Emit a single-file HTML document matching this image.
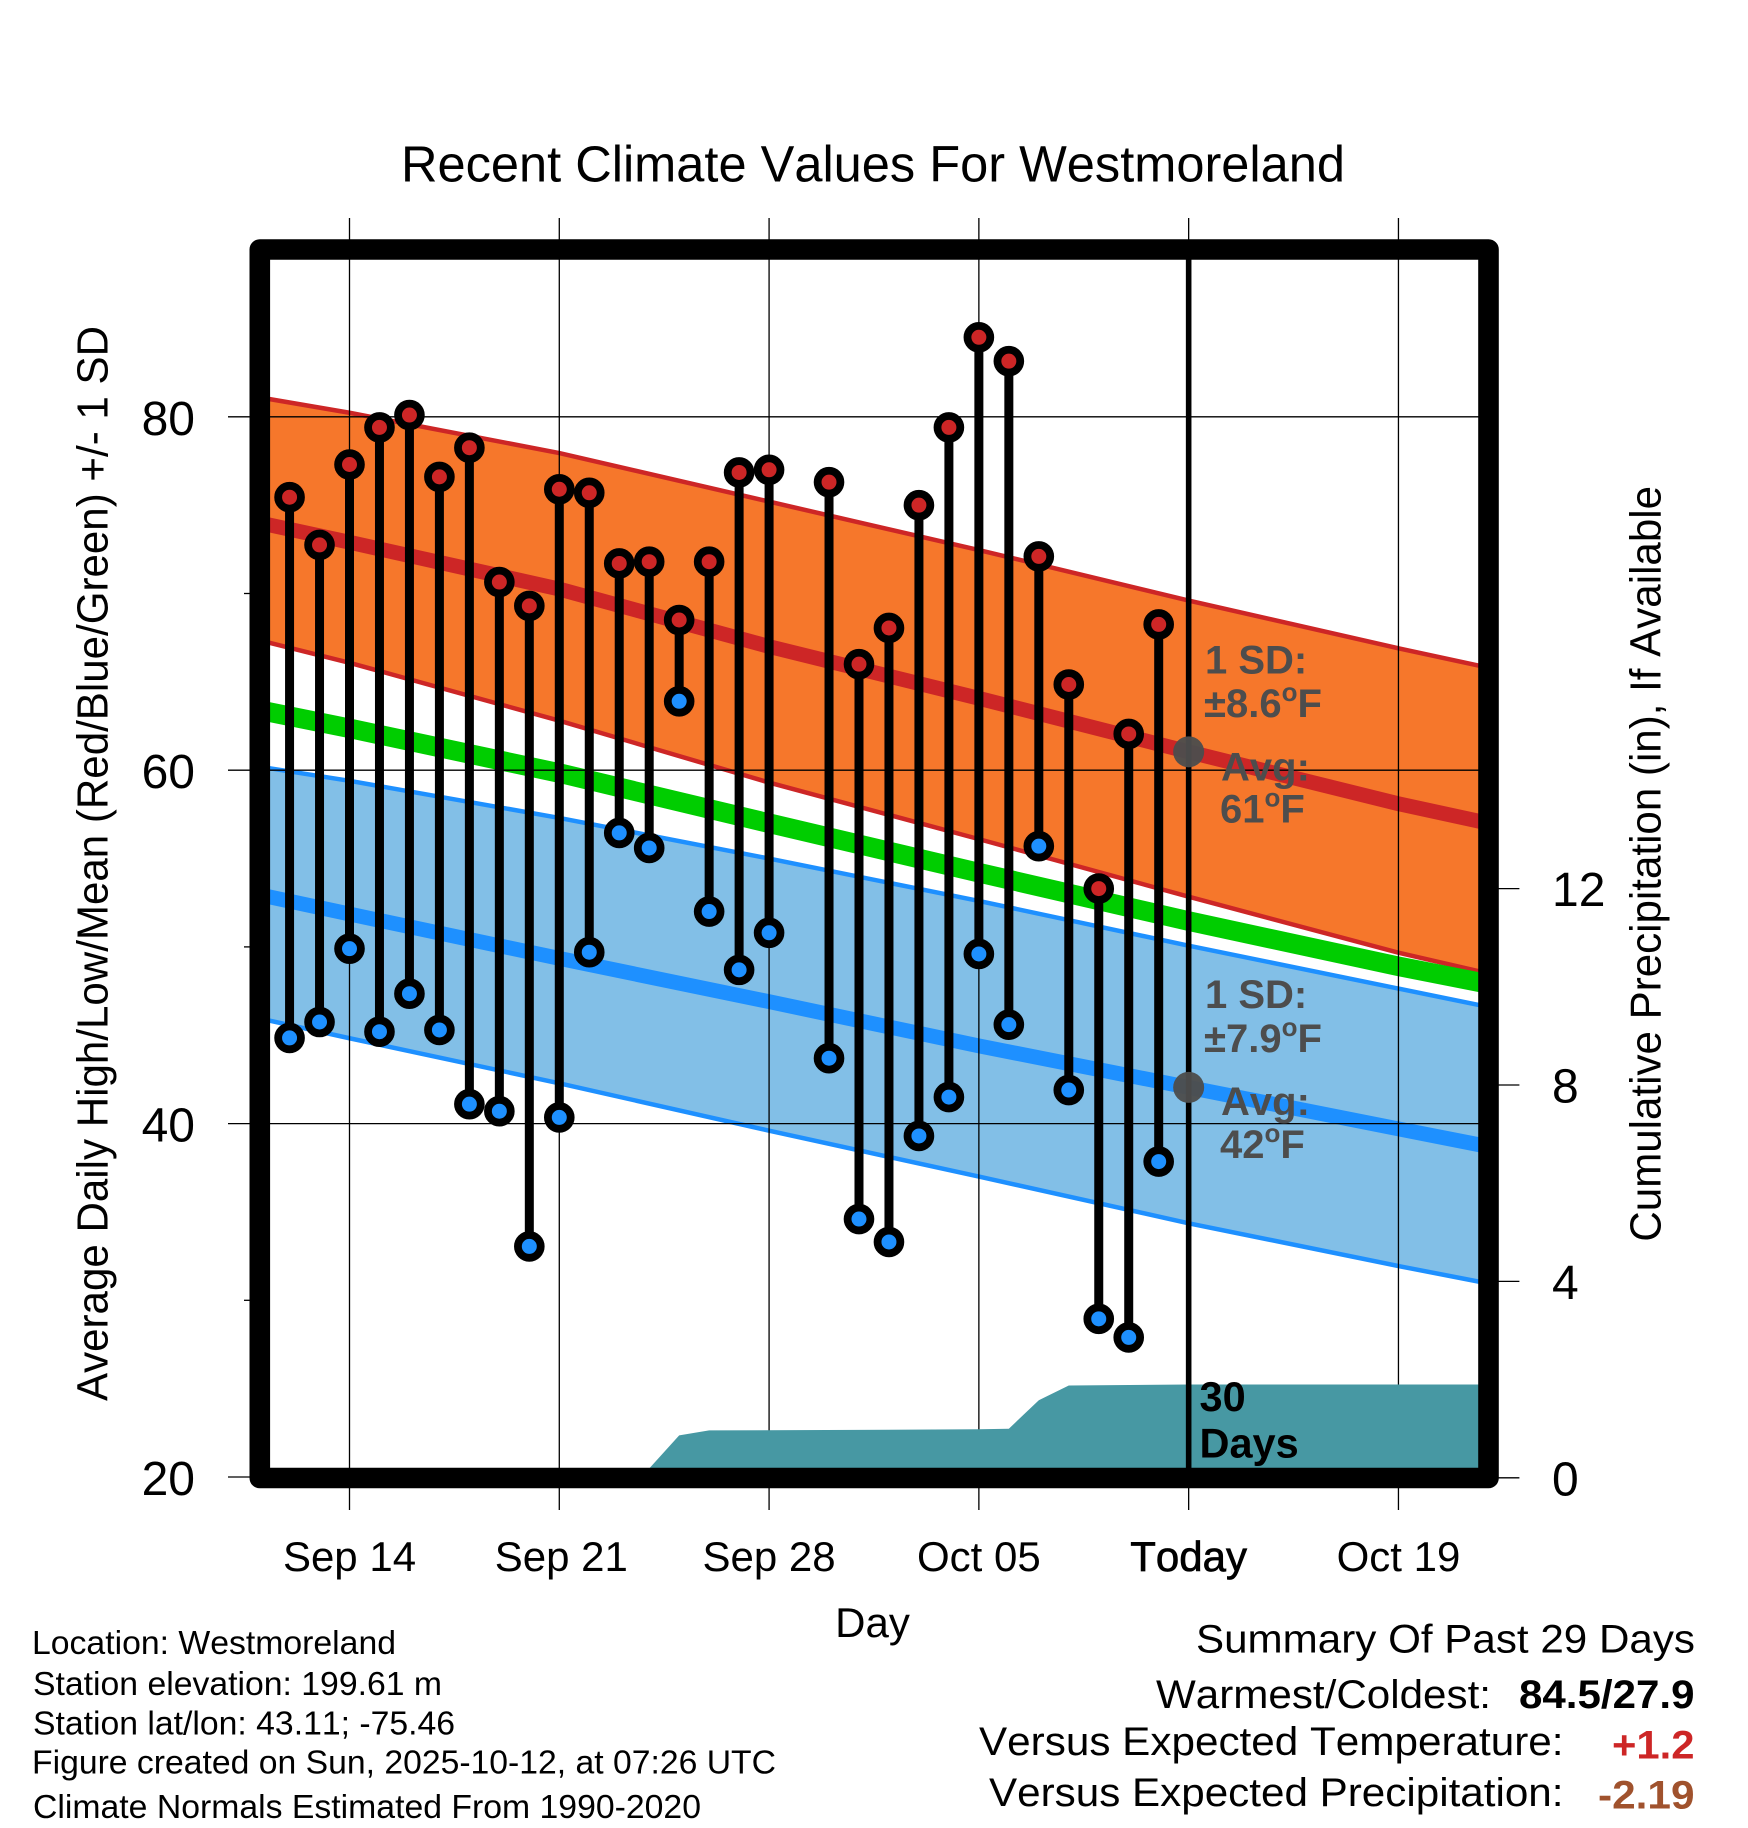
<!DOCTYPE html>
<html lang="en">
<head>
<meta charset="utf-8">
<title>Recent Climate Values For Westmoreland</title>
<style>
html,body{margin:0;padding:0;background:#fff;}
svg{display:block;}
text{font-family:"Liberation Sans",sans-serif;fill:#000;font-kerning:none;}
.note{font-weight:bold;fill:#4D4D4D;font-size:40px;}
.info{font-size:33px;}
.sum{font-size:40px;}
.sumb{font-size:40px;font-weight:bold;}
</style>
</head>
<body>
<svg id="chart" xmlns="http://www.w3.org/2000/svg" width="1748" height="1828" viewBox="0 0 1748 1828">
  <rect x="0" y="0" width="1748" height="1828" fill="#fff"/>
  <text x="401" y="181.5" font-size="51" textLength="944" lengthAdjust="spacingAndGlyphs">Recent Climate Values For Westmoreland</text>

  <g id="bands"></g>
  <g id="grid"></g>
  <g id="precip"></g>
  <g id="marks"></g>

  <rect x="259.8" y="249.5" width="1228.7" height="1228.5" fill="none" stroke="#000" stroke-width="20.6" stroke-linejoin="round"/>

  <g id="axis-labels"></g>

  <text transform="translate(107.7 1401) rotate(-90)" font-size="44" textLength="1075" lengthAdjust="spacingAndGlyphs">Average Daily High/Low/Mean (Red/Blue/Green) +/- 1 SD</text>
  <text transform="translate(1660.7 1241.6) rotate(-90)" font-size="44" textLength="755.6" lengthAdjust="spacingAndGlyphs">Cumulative Precipitation (in), If Available</text>
  <text x="872.5" y="1637" font-size="42" text-anchor="middle">Day</text>

  <g>
    <text class="note" x="1205" y="673.5">1 SD:</text>
    <text class="note" x="1204" y="717">±8.6<tspan font-size="26" dy="-16">o</tspan><tspan dy="16">F</tspan></text>
    <text class="note" x="1221" y="780.4">Avg:</text>
    <text class="note" x="1220" y="822.4">61<tspan font-size="26" dy="-16">o</tspan><tspan dy="16">F</tspan></text>
  </g>
  <g>
    <text class="note" x="1205" y="1008">1 SD:</text>
    <text class="note" x="1204" y="1052">±7.9<tspan font-size="26" dy="-16">o</tspan><tspan dy="16">F</tspan></text>
    <text class="note" x="1221" y="1115">Avg:</text>
    <text class="note" x="1220" y="1158">42<tspan font-size="26" dy="-16">o</tspan><tspan dy="16">F</tspan></text>
  </g>
  <g>
    <text x="1199.5" y="1411" font-size="41.5" font-weight="bold">30</text>
    <text x="1199.5" y="1457.6" font-size="41.5" font-weight="bold">Days</text>
  </g>

  <g>
    <text class="info" x="32" y="1653.8" textLength="364" lengthAdjust="spacingAndGlyphs">Location: Westmoreland</text>
    <text class="info" x="33" y="1695.2" textLength="409" lengthAdjust="spacingAndGlyphs">Station elevation: 199.61 m</text>
    <text class="info" x="33" y="1734.3" textLength="422" lengthAdjust="spacingAndGlyphs">Station lat/lon: 43.11; -75.46</text>
    <text class="info" x="32" y="1773.6" textLength="744" lengthAdjust="spacingAndGlyphs">Figure created on Sun, 2025-10-12, at 07:26 UTC</text>
    <text class="info" x="33" y="1818.2" textLength="668" lengthAdjust="spacingAndGlyphs">Climate Normals Estimated From 1990-2020</text>
  </g>

  <g>
    <text class="sum" x="1196" y="1652.5" textLength="499" lengthAdjust="spacingAndGlyphs">Summary Of Past 29 Days</text>
    <text class="sum" x="1156" y="1708" textLength="335" lengthAdjust="spacingAndGlyphs">Warmest/Coldest:</text>
    <text class="sumb" x="1519" y="1708" textLength="175.5" lengthAdjust="spacingAndGlyphs">84.5/27.9</text>
    <text class="sum" x="979" y="1755" textLength="584.5" lengthAdjust="spacingAndGlyphs">Versus Expected Temperature:</text>
    <text class="sumb" x="1612" y="1758.6" textLength="82.5" lengthAdjust="spacingAndGlyphs" style="fill:#CD2626">+1.2</text>
    <text class="sum" x="989" y="1806.2" textLength="574.5" lengthAdjust="spacingAndGlyphs">Versus Expected Precipitation:</text>
    <text class="sumb" x="1598" y="1808.4" textLength="96.5" lengthAdjust="spacingAndGlyphs" style="fill:#A0522D">-2.19</text>
  </g>
</svg>

<script>
// ---- daily observations ----
const dates = ['Sep 12','Sep 13','Sep 14','Sep 15','Sep 16','Sep 17','Sep 18','Sep 19','Sep 20','Sep 21','Sep 22','Sep 23','Sep 24','Sep 25','Sep 26','Sep 27','Sep 28','Sep 29','Sep 30','Oct 01','Oct 02','Oct 03','Oct 04','Oct 05','Oct 06','Oct 07','Oct 08','Oct 09','Oct 10','Oct 11'];
const highs = [75.45,72.75,77.3,79.4,80.1,76.6,78.25,70.65,69.3,75.9,75.7,71.7,71.8,68.5,71.8,76.85,77.0,null,76.3,66.0,68.05,75.0,79.4,84.5,83.15,72.1,64.85,53.3,62.05,68.25];
const lows  = [44.85,45.75,49.9,45.2,47.35,45.3,41.1,40.7,33.05,40.35,49.7,56.45,55.6,63.9,52.0,48.7,50.8,null,43.7,34.6,33.3,39.3,41.5,49.6,45.6,55.7,41.9,28.95,27.9,37.85];

// ---- climate normals ----
const normalDates = ['Sep 11','Sep 14','Sep 21','Sep 28','Oct 05','Oct 12','Oct 19','Oct 22'];
const highUpper = [81.1,80.23,77.95,75.2,72.46,69.6,66.9,65.8];
const highMean  = [74.0,72.9,70.25,67.0,64.07,61.04,58.1,57.0];
const highLower = [67.35,66.08,62.8,59.3,56.1,52.84,49.67,48.5];
const dailyMean = [63.4,62.37,59.84,57.0,54.2,51.46,48.9,47.9];
const lowUpper  = [60.2,59.4,57.3,55.0,52.6,50.07,47.64,46.6];
const lowMean   = [52.95,51.86,49.35,46.9,44.4,42.05,39.7,38.7];
const lowLower  = [45.95,44.83,42.28,39.6,37.0,34.36,31.94,30.95];

// ---- cumulative precipitation ----
const precipDates = ['Sep 23','Sep 24','Sep 25','Sep 26','Oct 01','Oct 05','Oct 06','Oct 07','Oct 08','Oct 12','Oct 22'];
const precipValues = [0,0.19,0.864,0.965,0.975,0.99,1.0,1.58,1.88,1.9,1.9];

// ---- axes ----
const xTickDates = ['Sep 14','Sep 21','Sep 28','Oct 05','Oct 12','Oct 19'];
const xTickLabels = ['Sep 14','Sep 21','Sep 28','Oct 05','Today','Oct 19'];
const yMajorTicks = [80,60,40,20];
const yMinorTicks = [70,50,30];
const y2Ticks = [0,4,8,12];
const todayDate = 'Oct 12';
const todayHighMean = 61.04;
const todayLowMean = 42.05;

const NS = 'http://www.w3.org/2000/svg';
const MONTHS = {Sep:8, Oct:9};
function dayNumber(s){
  const p = s.split(' ');
  return Date.UTC(2025, MONTHS[p[0]], +p[1]) / 86400000;
}
const originDay = dayNumber('Sep 14');
function xScale(s){ return 349.5 + (dayNumber(s) - originDay) * 29.97; }
function yScale(v){ return 416.8 + (80 - v) * 17.67; }
function y2Scale(v){ return 1477.8 - v * 49.1; }
function make(tag, attrs, parent){
  const el = document.createElementNS(NS, tag);
  for (const k in attrs) el.setAttribute(k, attrs[k]);
  parent.appendChild(el);
  return el;
}
function linePoints(vals){
  return normalDates.map((d,i) => xScale(d).toFixed(2) + ',' + yScale(vals[i]).toFixed(2));
}

const bands = document.getElementById('bands');
const grid = document.getElementById('grid');
const precip = document.getElementById('precip');
const marks = document.getElementById('marks');
const axisLabels = document.getElementById('axis-labels');

// ---- bands ----
let el;
el = make('polygon', {points: linePoints(highUpper).concat(linePoints(highLower).reverse()).join(' '), fill:'#F6772B'}, bands);


el = make('polygon', {points: linePoints(lowUpper).concat(linePoints(lowLower).reverse()).join(' '), fill:'#82BFE7'}, bands);



el = make('polyline', {points: linePoints(highUpper).join(' '), fill:'none', stroke:'#CD2626', 'stroke-width':4.5}, bands);


el = make('polyline', {points: linePoints(highLower).join(' '), fill:'none', stroke:'#CD2626', 'stroke-width':4.5}, bands);


el = make('polyline', {points: linePoints(lowUpper).join(' '), fill:'none', stroke:'#1E90FF', 'stroke-width':4.5}, bands);


el = make('polyline', {points: linePoints(lowLower).join(' '), fill:'none', stroke:'#1E90FF', 'stroke-width':4.5}, bands);



el = make('polyline', {points: linePoints(highMean).join(' '), fill:'none', stroke:'#CD2626', 'stroke-width':14.8}, bands);


el = make('polyline', {points: linePoints(dailyMean).join(' '), fill:'none', stroke:'#00CD00', 'stroke-width':19.6}, bands);


el = make('polyline', {points: linePoints(lowMean).join(' '), fill:'none', stroke:'#1E90FF', 'stroke-width':14.8}, bands);



// ---- grid and ticks ----
xTickDates.forEach(function(d, i){
  const x = xScale(d);
  const ln = make('line', {x1:x, x2:x, y1:218, y2:1510, stroke:'#000', 'stroke-width':1.3}, grid);
  
  
  const labelX = xTickLabels[i] === 'Sep 21' ? x + 2 : x;
  const t = make('text', {x:labelX, y:1571, 'font-size':42, 'text-anchor':'middle'}, axisLabels);
  t.textContent = xTickLabels[i];
  if (xTickLabels[i] === 'Today') { t.setAttribute('style', 'stroke:#000;stroke-width:0.7px'); }
  
  
});
yMajorTicks.forEach(function(v){
  const y = yScale(v);
  const ln = make('line', {x1:228, x2: v === 20 ? 252 : 1490, y1:y, y2:y, stroke:'#000', 'stroke-width':1.3}, grid);
  
  
  const t = make('text', {x:195, y:y + 18, 'font-size':48, 'text-anchor':'end'}, axisLabels);
  t.textContent = String(v);
  
  
});
yMinorTicks.forEach(function(v){
  const y = yScale(v);
  const ln = make('line', {x1:244, x2:252, y1:y, y2:y, stroke:'#000', 'stroke-width':1.3}, grid);
  
  
});
y2Ticks.forEach(function(v){
  const y = y2Scale(v);
  const ln = make('line', {x1:1496, x2:1519.4, y1:y, y2:y, stroke:'#000', 'stroke-width':1.3}, grid);
  
  
  const t = make('text', {x:1552, y:y + 17.5, 'font-size':48}, axisLabels);
  t.textContent = String(v);
  
  
});

// ---- precipitation area ----
(function(){
  const pts = precipDates.map((d,i) => xScale(d).toFixed(2) + ',' + y2Scale(precipValues[i]).toFixed(2));
  pts.push(xScale(precipDates[precipDates.length-1]).toFixed(2) + ',' + y2Scale(0).toFixed(2));
  pts.push(xScale(precipDates[0]).toFixed(2) + ',' + y2Scale(0).toFixed(2));
  const area = make('polygon', {points: pts.join(' '), fill:'#4798A3'}, precip);
  
  
})();

// ---- stems and dots ----
dates.forEach(function(d, i){
  if (highs[i] === null) return;
  const x = xScale(d);
  const stem = make('line', {x1:x, x2:x, y1:yScale(highs[i]), y2:yScale(lows[i]), stroke:'#000', 'stroke-width':9}, marks);
  
  
});
dates.forEach(function(d, i){
  if (lows[i] === null) return;
  const dot = make('circle', {cx:xScale(d), cy:yScale(lows[i]), r:11.4, fill:'#1E90FF', stroke:'#000', 'stroke-width':7.8}, marks);
  
  
});
dates.forEach(function(d, i){
  if (highs[i] === null) return;
  const dot = make('circle', {cx:xScale(d), cy:yScale(highs[i]), r:11.4, fill:'#CD2626', stroke:'#000', 'stroke-width':7.8}, marks);
  
  
});

// ---- today marker ----
(function(){
  const x = xScale(todayDate);
  const tl = make('line', {x1:x, x2:x, y1:255, y2:1472, stroke:'#000', 'stroke-width':5.6}, marks);
  
  
  const a = make('circle', {cx:x, cy:yScale(todayHighMean), r:15.5, fill:'#4D4D4D', 'fill-opacity':0.96}, marks);
  
  
  const b = make('circle', {cx:x, cy:yScale(todayLowMean), r:15.5, fill:'#4D4D4D', 'fill-opacity':0.96}, marks);
  
  
})();
</script>
</body>
</html>
